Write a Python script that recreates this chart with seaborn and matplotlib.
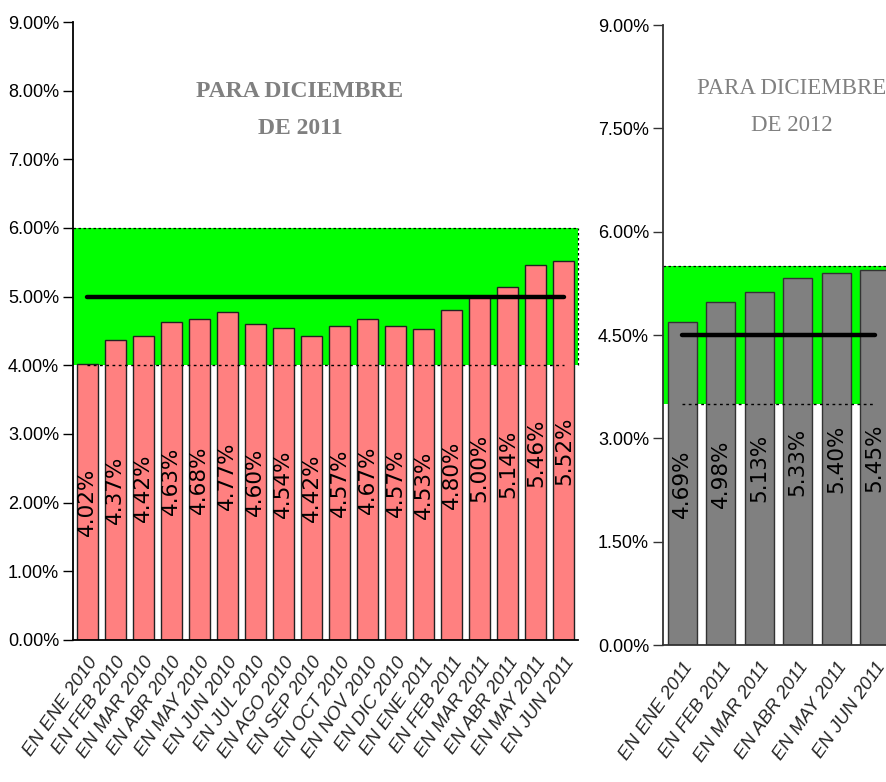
import matplotlib
matplotlib.use("Agg")
import matplotlib.pyplot as plt
import seaborn as sns
import pandas as pd
from matplotlib.ticker import FuncFormatter

# ---- data ----
left_categories = ["EN ENE 2010", "EN FEB 2010", "EN MAR 2010", "EN ABR 2010", "EN MAY 2010",
                   "EN JUN 2010", "EN JUL 2010", "EN AGO 2010", "EN SEP 2010", "EN OCT 2010",
                   "EN NOV 2010", "EN DIC 2010", "EN ENE 2011", "EN FEB 2011", "EN MAR 2011",
                   "EN ABR 2011", "EN MAY 2011", "EN JUN 2011"]
left_values = [4.02, 4.37, 4.42, 4.63, 4.68, 4.77, 4.60, 4.54, 4.42, 4.57,
               4.67, 4.57, 4.53, 4.80, 5.00, 5.14, 5.46, 5.52]
left_target = 5.0
left_band = (4.0, 6.0)
left_ticks = [0, 1, 2, 3, 4, 5, 6, 7, 8, 9]
left_title = "PARA DICIEMBRE\nDE 2011"

right_categories = ["EN ENE 2011", "EN FEB 2011", "EN MAR 2011", "EN ABR 2011",
                    "EN MAY 2011", "EN JUN 2011"]
right_values = [4.69, 4.98, 5.13, 5.33, 5.40, 5.45]
right_target = 4.5
right_band = (3.5, 5.5)
right_ticks = [0, 1.5, 3.0, 4.5, 6.0, 7.5, 9.0]
right_title = "PARA DICIEMBRE\nDE 2012"

sns.set_theme(style="white")
plt.rcParams["font.family"] = ["Liberation Sans Narrow", "Liberation Sans", "DejaVu Sans"]

fig = plt.figure(figsize=(8.87, 7.82), dpi=100)
axL = fig.add_axes([73 / 887, 1 - 640 / 782, 505 / 887, 618 / 782])
axR = fig.add_axes([663 / 887, 1 - 645 / 782, 231 / 887, 620 / 782])

pct = FuncFormatter(lambda v, p: f"{v:.2f}%")


def draw(ax, cats, vals, target, band, ticks, title, color, edge, spine_col,
         title_xy, title_weight, title_size):
    n = len(cats)
    df = pd.DataFrame({"cat": cats, "val": vals})
    ax.axhspan(band[0], band[1], xmin=0, xmax=1, color="#00FF00", zorder=0, lw=0)
    ax.axhline(band[1], color="black", ls=(0, (2, 2)), lw=0.9, zorder=1)
    ax.plot([n - 0.5, n - 0.5], band, color="black", ls=(0, (2, 2)), lw=0.9, zorder=1,
            clip_on=False)
    sns.barplot(data=df, x="cat", y="val", ax=ax, color=color, width=0.75,
                edgecolor=edge, linewidth=1.0, saturation=1, zorder=2)
    ax.plot([0, n - 1], [band[0], band[0]], color="black", ls=(0, (2, 2.5)), lw=1.0, zorder=4)
    ax.plot([0, n - 1], [target, target], color="black", lw=3.2, zorder=5,
            solid_capstyle="round")
    for i, v in enumerate(vals):
        ax.text(i, v / 2, f"{v:.2f}%", rotation=90, ha="center", va="center",
                fontsize=15.5, family="DejaVu Sans", color="black", zorder=6)
    ax.set_xlim(-0.5, n - 0.5)
    ax.set_ylim(0, 9)
    ax.set_yticks(ticks)
    ax.yaxis.set_major_formatter(pct)
    ax.set_xlabel("")
    ax.set_ylabel("")
    ax.tick_params(axis="y", left=True, length=7, width=1, color=spine_col,
                   labelsize=13, pad=3, labelcolor="black")
    ax.tick_params(axis="x", bottom=False, pad=4)
    ax.set_xticks(range(n))
    ax.set_xticklabels(cats, rotation=55, ha="right", rotation_mode="anchor",
                       fontsize=13.5, style="italic", family="Liberation Sans")
    for s in ["top", "right"]:
        ax.spines[s].set_visible(False)
    for s in ["left", "bottom"]:
        ax.spines[s].set_color(spine_col)
        ax.spines[s].set_linewidth(1.3)
    ax.text(title_xy[0], title_xy[1], title, transform=fig.transFigure, ha="center",
            va="center", color="#808080", family="Liberation Serif",
            fontweight=title_weight, fontsize=title_size, linespacing=2.0)


draw(axL, left_categories, left_values, left_target, left_band, left_ticks, left_title,
     "#FF8080", "#222222", "black", (300 / 887, 1 - 110 / 782), "bold", 17)
draw(axR, right_categories, right_values, right_target, right_band, right_ticks, right_title,
     "#808080", "#333333", "#333333", (792 / 887, 1 - 107 / 782), "normal", 16.5)

fig.savefig("out.png", dpi=100)
